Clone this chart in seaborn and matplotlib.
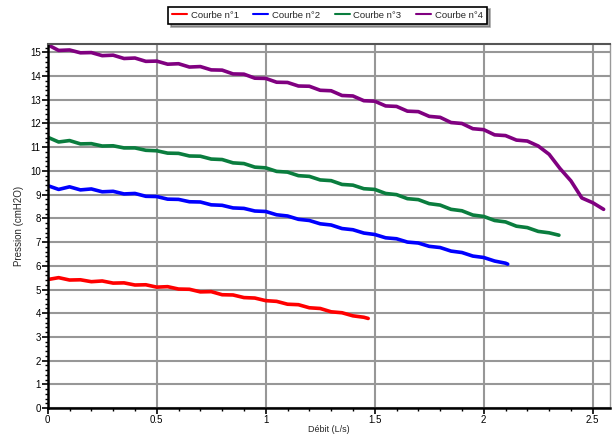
import pandas as pd
import matplotlib
matplotlib.use('Agg')  # Use non-interactive backend
import matplotlib.pyplot as plt
from matplotlib.ticker import MultipleLocator, FixedLocator
import seaborn as sns

# Sampling grid of the flow (L/s), every 0.05
debit = [0.00, 0.05, 0.10, 0.15, 0.20, 0.25, 0.30, 0.35, 0.40, 0.45,
         0.50, 0.55, 0.60, 0.65, 0.70, 0.75, 0.80, 0.85, 0.90, 0.95,
         1.00, 1.05, 1.10, 1.15, 1.20, 1.25, 1.30, 1.35, 1.40, 1.45,
         1.50, 1.55, 1.60, 1.65, 1.70, 1.75, 1.80, 1.85, 1.90, 1.95,
         2.00, 2.05, 2.10, 2.15, 2.20, 2.25, 2.30, 2.35, 2.40, 2.45,
         2.50, 2.55]

# Pressure readings (cmH2O) for each curve; last value sits at the curve end
courbe1 = [5.42, 5.50, 5.40, 5.41, 5.33, 5.36, 5.27, 5.28, 5.19, 5.20,
           5.10, 5.12, 5.02, 5.01, 4.90, 4.91, 4.78, 4.77, 4.66, 4.64,
           4.53, 4.50, 4.38, 4.36, 4.23, 4.20, 4.06, 4.02, 3.89, 3.83,
           3.78]
courbe2 = [9.38, 9.22, 9.33, 9.20, 9.24, 9.12, 9.14, 9.03, 9.05, 8.93,
           8.92, 8.81, 8.80, 8.70, 8.69, 8.57, 8.55, 8.44, 8.42, 8.31,
           8.29, 8.15, 8.10, 7.96, 7.91, 7.77, 7.72, 7.57, 7.52, 7.38,
           7.32, 7.18, 7.14, 7.00, 6.96, 6.82, 6.77, 6.62, 6.56, 6.41,
           6.35, 6.20, 6.11, 6.07]
courbe3 = [11.42, 11.22, 11.28, 11.14, 11.15, 11.05, 11.06, 10.97, 10.97, 10.87,
           10.85, 10.75, 10.74, 10.63, 10.62, 10.50, 10.48, 10.34, 10.31, 10.16,
           10.13, 9.98, 9.95, 9.80, 9.77, 9.62, 9.59, 9.43, 9.40, 9.25,
           9.22, 9.05, 9.00, 8.83, 8.79, 8.62, 8.56, 8.38, 8.32, 8.14,
           8.08, 7.91, 7.85, 7.67, 7.61, 7.45, 7.39, 7.29]
courbe4 = [15.32, 15.08, 15.10, 14.98, 14.99, 14.86, 14.88, 14.74, 14.76, 14.62,
           14.63, 14.50, 14.52, 14.38, 14.40, 14.26, 14.25, 14.09, 14.08, 13.91,
           13.90, 13.74, 13.73, 13.58, 13.57, 13.40, 13.38, 13.18, 13.16, 12.96,
           12.94, 12.74, 12.72, 12.52, 12.50, 12.30, 12.26, 12.04, 12.00, 11.78,
           11.74, 11.52, 11.49, 11.30, 11.26, 11.05, 10.70, 10.10, 9.58, 8.86,
           8.66, 8.38]

# Flow value where each curve stops
fins = [1.47, 2.11, 2.345, 2.55]
noms = ['Courbe n°1', 'Courbe n°2', 'Courbe n°3', 'Courbe n°4']
couleurs = ['#ff0000', '#0000ff', '#0a7d3e', '#800080']
xticks = [0, 0.5, 1, 1.5, 2, 2.5]
xtick_labels = ['0', '0.5', '1', '1.5', '2', '2.5']

# Build one long table for seaborn
rows = []
for nom, ys, fin in zip(noms, [courbe1, courbe2, courbe3, courbe4], fins):
    xs = debit[:len(ys) - 1] + [fin]
    for x, y in zip(xs, ys):
        rows.append({'Débit': x, 'Pression': y, 'Courbe': nom})
df = pd.DataFrame(rows)

sns.set_style('white')
plt.rcParams['font.family'] = ['Liberation Sans', 'DejaVu Sans']

fig = plt.figure(figsize=(6.12, 4.36), dpi=100)
ax = fig.add_axes([0.078, 0.064, 0.919, 0.835])

sns.lineplot(data=df, x='Débit', y='Pression', hue='Courbe', palette=couleurs,
             estimator=None, sort=False, linewidth=2.6, ax=ax, legend=True)

ax.set_xlim(0, 2.58)
ax.set_ylim(0, 15.35)

# Grid and ticks
ax.xaxis.set_major_locator(FixedLocator(xticks))
ax.set_xticklabels(xtick_labels)
ax.xaxis.set_minor_locator(MultipleLocator(0.1))
ax.yaxis.set_major_locator(MultipleLocator(1))
ax.yaxis.set_minor_locator(MultipleLocator(0.2))
ax.grid(True, which='major', color='#979797', linewidth=1.5)
ax.set_axisbelow(True)
ax.tick_params(axis='both', which='major', direction='out', length=4, width=1.2,
               labelsize=7, pad=1, colors='black')
ax.tick_params(axis='both', which='minor', direction='out', length=2.5, width=1,
               colors='black')
ax.tick_params(axis='x', which='both', bottom=True)
ax.tick_params(axis='y', which='both', left=True)

for side in ['left', 'bottom']:
    ax.spines[side].set_color('black')
    ax.spines[side].set_linewidth(1.8)
ax.spines['top'].set_color('#555555')
ax.spines['top'].set_linewidth(1.5)
ax.spines['right'].set_color('#999999')
ax.spines['right'].set_linewidth(1)

ax.set_xlabel('Débit (L/s)', fontsize=6.5, labelpad=0)
ax.set_ylabel('Pression (cmH2O)', fontsize=7, labelpad=4)

# Legend above the plot, framed with a shadow
handles, labels = ax.get_legend_handles_labels()
ax.legend_.remove()
leg = fig.legend(handles, labels, loc='center', bbox_to_anchor=(0.535, 0.965),
                 bbox_transform=fig.transFigure, ncol=4, fontsize=6.8,
                 frameon=True, fancybox=False, shadow=True, handlelength=1.6,
                 handletextpad=0.4, columnspacing=1.5, borderpad=0.45)
leg.get_frame().set_edgecolor('black')
leg.get_frame().set_linewidth(1.2)
for line in leg.get_lines():
    line.set_linewidth(1.5)

fig.savefig('out.png', dpi=100)
plt.close('all')
